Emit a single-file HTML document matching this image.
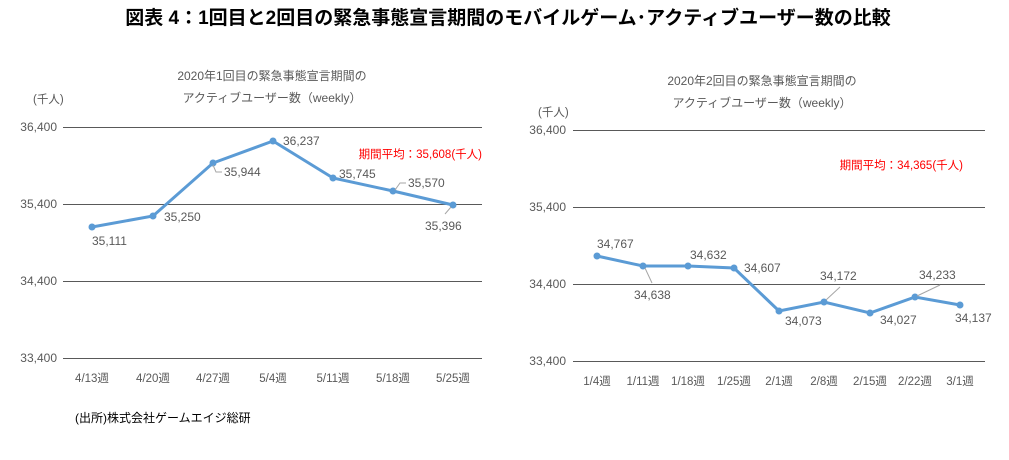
<!DOCTYPE html>
<html><head><meta charset="utf-8"><style>
body{margin:0;background:#fff;width:1009px;height:460px;overflow:hidden}
svg{display:block;font-family:"Liberation Sans","Noto Sans CJK JP",sans-serif}
</style></head><body>
<svg width="1009" height="460" viewBox="0 0 1009 460">
<text x="508" y="24" text-anchor="middle" font-size="19" font-weight="bold" fill="#000">図表 4：1回目と2回目の緊急事態宣言期間のモバイルゲーム･アクティブユーザー数の比較</text>
<g font-size="11.5" fill="#595959">
<text x="272" y="80" text-anchor="middle" font-size="12">2020年1回目の緊急事態宣言期間の</text>
<text x="272" y="102" text-anchor="middle" font-size="12">アクティブユーザー数（weekly）</text>
<text x="33" y="103">(千人)</text>
<g stroke="#595959" stroke-width="1">
<line x1="63" y1="127.5" x2="482" y2="127.5"/><line x1="63" y1="204.5" x2="482" y2="204.5"/>
<line x1="63" y1="281.5" x2="482" y2="281.5"/><line x1="63" y1="358.5" x2="482" y2="358.5"/></g>
<g text-anchor="end" font-size="12"><text x="57" y="131">36,400</text><text x="57" y="208">35,400</text><text x="57" y="285">34,400</text><text x="57" y="362">33,400</text></g>
<g text-anchor="middle"><text x="92" y="382">4/13週</text><text x="153" y="382">4/20週</text><text x="213" y="382">4/27週</text><text x="273" y="382">5/4週</text><text x="333" y="382">5/11週</text><text x="393" y="382">5/18週</text><text x="453" y="382">5/25週</text></g>
<polyline points="92,227 153,216 213,163 273,141 333,178 393,191 453,205" fill="none" stroke="#5b9bd5" stroke-width="3"/>
<g fill="#5b9bd5"><circle cx="92" cy="227" r="3.5"/><circle cx="153" cy="216" r="3.5"/><circle cx="213" cy="163" r="3.5"/><circle cx="273" cy="141" r="3.5"/><circle cx="333" cy="178" r="3.5"/><circle cx="393" cy="191" r="3.5"/><circle cx="453" cy="205" r="3.5"/></g>
<g stroke="#a6a6a6" fill="none"><polyline points="213,165 216,172 222,172"/><polyline points="395,190 400,183 406,183"/><line x1="451" y1="207" x2="445" y2="214"/></g>
<g font-size="12"><text x="92" y="245">35,111</text><text x="164" y="221">35,250</text><text x="224" y="176">35,944</text><text x="283" y="145">36,237</text><text x="339" y="178">35,745</text><text x="408" y="187">35,570</text><text x="425" y="230">35,396</text></g>
<text x="482" y="158" text-anchor="end" fill="#ff0000">期間平均：35,608(千人)</text>
<text x="75" y="422" fill="#000" font-size="12">(出所)株式会社ゲームエイジ総研</text>
<text x="762" y="85" text-anchor="middle" font-size="12">2020年2回目の緊急事態宣言期間の</text>
<text x="762" y="107" text-anchor="middle" font-size="12">アクティブユーザー数（weekly）</text>
<text x="538" y="116">(千人)</text>
<g stroke="#595959" stroke-width="1">
<line x1="573" y1="130.5" x2="985" y2="130.5"/><line x1="573" y1="207.5" x2="985" y2="207.5"/>
<line x1="573" y1="284.5" x2="985" y2="284.5"/><line x1="573" y1="361.5" x2="985" y2="361.5"/></g>
<g text-anchor="end" font-size="12"><text x="566" y="134">36,400</text><text x="566" y="211">35,400</text><text x="566" y="288">34,400</text><text x="566" y="365">33,400</text></g>
<g text-anchor="middle"><text x="597" y="385">1/4週</text><text x="643" y="385">1/11週</text><text x="688" y="385">1/18週</text><text x="734" y="385">1/25週</text><text x="779" y="385">2/1週</text><text x="824" y="385">2/8週</text><text x="870" y="385">2/15週</text><text x="915" y="385">2/22週</text><text x="960" y="385">3/1週</text></g>
<polyline points="597,256 643,266 688,266 734,268 779,311 824,302 870,313 915,297 960,305" fill="none" stroke="#5b9bd5" stroke-width="3"/>
<g fill="#5b9bd5"><circle cx="597" cy="256" r="3.5"/><circle cx="643" cy="266" r="3.5"/><circle cx="688" cy="266" r="3.5"/><circle cx="734" cy="268" r="3.5"/><circle cx="779" cy="311" r="3.5"/><circle cx="824" cy="302" r="3.5"/><circle cx="870" cy="313" r="3.5"/><circle cx="915" cy="297" r="3.5"/><circle cx="960" cy="305" r="3.5"/></g>
<g stroke="#a6a6a6" fill="none"><line x1="645" y1="268" x2="652" y2="283"/><line x1="826" y1="300" x2="840" y2="287"/><line x1="917" y1="296" x2="940" y2="285"/></g>
<g font-size="12"><text x="597" y="248">34,767</text><text x="634" y="299">34,638</text><text x="690" y="259">34,632</text><text x="744" y="272">34,607</text><text x="785" y="325">34,073</text><text x="820" y="280">34,172</text><text x="880" y="324">34,027</text><text x="919" y="279">34,233</text><text x="955" y="322">34,137</text></g>
<text x="963" y="169" text-anchor="end" fill="#ff0000">期間平均：34,365(千人)</text>
</g>
</svg>
</body></html>
